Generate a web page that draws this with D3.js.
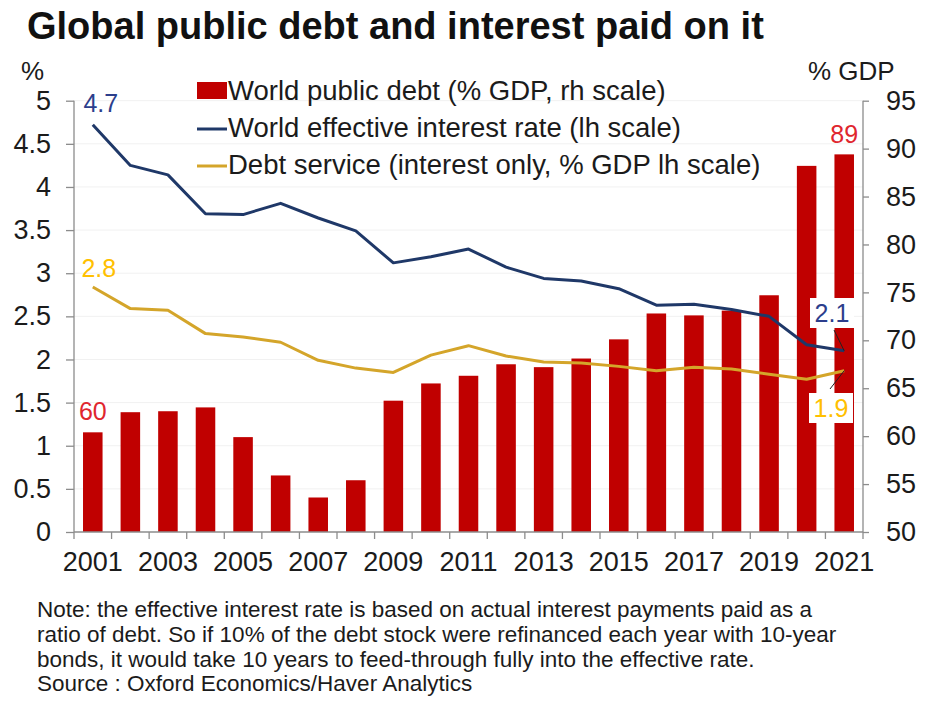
<!DOCTYPE html>
<html>
<head>
<meta charset="utf-8">
<script src="https://cdn.jsdelivr.net/npm/d3@7"></script>
<style>
  html, body { margin: 0; padding: 0; background: #fff; }
  svg { display: block; font-family: "Liberation Sans", Arial, sans-serif; }
</style>
</head>
<body>
<svg id="chart" width="933" height="706"></svg>
<script>
// Years on the category axis
const years = d3.range(2001, 2022);
// World public debt, % of GDP (right-hand scale)
const publicDebt = [60.4, 62.5, 62.6, 63.0, 59.9, 55.9, 53.6, 55.4, 63.7, 65.5, 66.3,
                    67.5, 67.2, 68.1, 70.1, 72.8, 72.6, 73.1, 74.7, 88.2, 89.4];
// World effective interest rate, % (left-hand scale)
const effectiveRate = [4.72, 4.25, 4.14, 3.69, 3.68, 3.81, 3.64, 3.49, 3.12, 3.19, 3.28,
                       3.07, 2.94, 2.91, 2.82, 2.63, 2.64, 2.58, 2.50, 2.17, 2.10];
// Debt service, interest only, % of GDP (left-hand scale)
const debtService = [2.84, 2.59, 2.57, 2.30, 2.26, 2.20, 1.99, 1.90, 1.85, 2.05, 2.16,
                     2.04, 1.97, 1.96, 1.92, 1.87, 1.91, 1.89, 1.83, 1.77, 1.87];
// Tick labels
const leftTicks = d3.range(0, 5.01, 0.5);
const rightTicks = d3.range(50, 95.01, 5);
const yearLabels = years.filter(y => y % 2 === 1);
const legendItems = [
  "World public debt (% GDP, rh scale)",
  "World effective interest rate (lh scale)",
  "Debt service (interest only, % GDP lh scale)"
];
const noteLines = [
  "Note: the effective interest rate is based on actual interest payments paid as a",
  "ratio of debt. So if 10% of the debt stock were refinanced each year with 10-year",
  "bonds, it would take 10 years to feed-through fully into the effective rate.",
  "Source : Oxford Economics/Haver Analytics"
];

const RED = "#C00000", NAVY = "#1F3868", GOLD = "#D4A52A";
const RED_TXT = "#E0262E", NAVY_TXT = "#2C3E8C", GOLD_TXT = "#FFC000";
const TXT = "#1b1b1b", AXIS = "#8c8c8c";

const svg = d3.select("#chart");
const plotLeft = 74, plotRight = 863, plotTop = 100.7, plotBottom = 532;

const x = d3.scaleBand().domain(years).range([plotLeft, plotRight]).padding(0);
const yL = d3.scaleLinear().domain([0, 5]).range([plotBottom, plotTop]);
const yR = d3.scaleLinear().domain([50, 95]).range([plotBottom, plotTop]);
const cx = d => x(d) + x.bandwidth() / 2;
const barW = x.bandwidth() * 0.52;

// Title
svg.append("text").attr("x", 27).attr("y", 39)
  .attr("font-size", 38).attr("font-weight", "bold").attr("fill", "#111")
  .text("Global public debt and interest paid on it");

// Faint horizontal gridlines
svg.append("g").selectAll("line").data(leftTicks.slice(1)).join("line")
  .attr("x1", plotLeft).attr("x2", plotRight)
  .attr("y1", d => yL(d)).attr("y2", d => yL(d))
  .attr("stroke", "#f1f1f1").attr("stroke-width", 1);

// Bars: world public debt
svg.append("g").selectAll("rect").data(years).join("rect")
  .attr("x", d => cx(d) - barW / 2)
  .attr("width", barW)
  .attr("y", (d, i) => yR(publicDebt[i]))
  .attr("height", (d, i) => plotBottom - yR(publicDebt[i]))
  .attr("fill", RED);

// Lines
const lineL = d3.line().x((d, i) => cx(years[i])).y(d => yL(d));
svg.append("path").datum(debtService).attr("d", lineL)
  .attr("fill", "none").attr("stroke", GOLD).attr("stroke-width", 3).attr("stroke-linejoin", "round");
svg.append("path").datum(effectiveRate).attr("d", lineL)
  .attr("fill", "none").attr("stroke", NAVY).attr("stroke-width", 3).attr("stroke-linejoin", "round");

// Left axis
const axL = svg.append("g").attr("transform", `translate(${plotLeft},0)`)
  .call(d3.axisLeft(yL).tickValues(leftTicks).tickSize(8).tickPadding(15)
    .tickFormat(d => String(+d.toFixed(1))));
// Right axis
const axR = svg.append("g").attr("transform", `translate(${plotRight},0)`)
  .call(d3.axisRight(yR).tickValues(rightTicks).tickSize(6).tickPadding(17)
    .tickFormat(d3.format("d")));
// Bottom axis: labels on odd years, ticks on category boundaries
const axB = svg.append("g").attr("transform", `translate(0,${plotBottom})`)
  .call(d3.axisBottom(x).tickValues(yearLabels).tickSize(0).tickPadding(20));
svg.append("g").selectAll("line").data(years.map(d => x(d)).concat([plotRight])).join("line")
  .attr("x1", d => d).attr("x2", d => d)
  .attr("y1", plotBottom).attr("y2", plotBottom + 7)
  .attr("stroke", AXIS).attr("stroke-width", 1.3);

[axL, axR, axB].forEach(g => {
  g.select(".domain").attr("stroke", AXIS).attr("stroke-width", 1.3);
  g.selectAll(".tick line").attr("stroke", AXIS).attr("stroke-width", 1.3);
  g.selectAll(".tick text").attr("fill", TXT).attr("font-size", 27)
    .attr("font-family", "Liberation Sans, Arial, sans-serif");
});
axB.select(".domain").attr("d", `M${plotLeft},0H${plotRight}`);
axL.select(".domain").attr("d", `M0,${plotTop}V${plotBottom}`);
axR.select(".domain").attr("d", `M0,${plotTop}V${plotBottom}`);

// Axis unit labels
svg.append("text").attr("x", 21).attr("y", 80).attr("font-size", 26).attr("fill", TXT).text("%");
svg.append("text").attr("x", 808).attr("y", 80).attr("font-size", 26).attr("fill", TXT).text("% GDP");

// Legend
const lg = svg.append("g");
legendItems.forEach((t, i) => {
  const yy = 90 + i * 37;
  if (i === 0) {
    lg.append("rect").attr("x", 197).attr("y", yy - 8).attr("width", 30).attr("height", 17).attr("fill", RED);
  } else {
    lg.append("line").attr("x1", 197).attr("x2", 227).attr("y1", yy + 2).attr("y2", yy + 2)
      .attr("stroke", i === 1 ? NAVY : GOLD).attr("stroke-width", 3);
  }
  lg.append("text").attr("x", 228).attr("y", yy + 10).attr("font-size", 27.5).attr("fill", TXT).text(t);
});

// Value labels
const last = years.length - 1;
const f0 = d3.format(".0f"), f1 = d3.format(".1f");
svg.append("text").attr("x", cx(years[0])).attr("y", yR(publicDebt[0]) - 12)
  .attr("text-anchor", "middle").attr("font-size", 25).attr("fill", RED_TXT).text(f0(publicDebt[0]));
svg.append("text").attr("x", cx(years[last])).attr("y", yR(publicDebt[last]) - 11)
  .attr("text-anchor", "middle").attr("font-size", 25).attr("fill", RED_TXT).text(f0(publicDebt[last]));
svg.append("text").attr("x", cx(years[0]) + 8).attr("y", yL(effectiveRate[0]) - 13)
  .attr("text-anchor", "middle").attr("font-size", 25).attr("fill", NAVY_TXT).text(f1(effectiveRate[0]));
svg.append("text").attr("x", cx(years[0]) + 6).attr("y", yL(debtService[0]) - 10)
  .attr("text-anchor", "middle").attr("font-size", 25).attr("fill", GOLD_TXT).text(f1(debtService[0]));

// End-point callouts with leader lines
function callout(val, color, bx, by, lx, ly) {
  const px = cx(years[last]), py = yL(val);
  svg.append("line").attr("x1", px).attr("y1", py).attr("x2", lx).attr("y2", ly)
    .attr("stroke", "#222").attr("stroke-width", 1);
  svg.append("rect").attr("x", bx).attr("y", by).attr("width", 44).attr("height", 30).attr("fill", "#fff");
  svg.append("text").attr("x", bx + 22).attr("y", by + 24).attr("text-anchor", "middle")
    .attr("font-size", 25).attr("fill", color).text(f1(val));
}
callout(effectiveRate[last], NAVY_TXT, 810, 298, 834, 330);
callout(debtService[last], GOLD_TXT, 809, 393, 830, 389);

// Note and source
svg.append("g").selectAll("text").data(noteLines).join("text")
  .attr("x", 37).attr("y", (d, i) => 617 + i * 24.8)
  .attr("font-size", 22.5).attr("fill", TXT).text(d => d);
</script>
</body>
</html>
